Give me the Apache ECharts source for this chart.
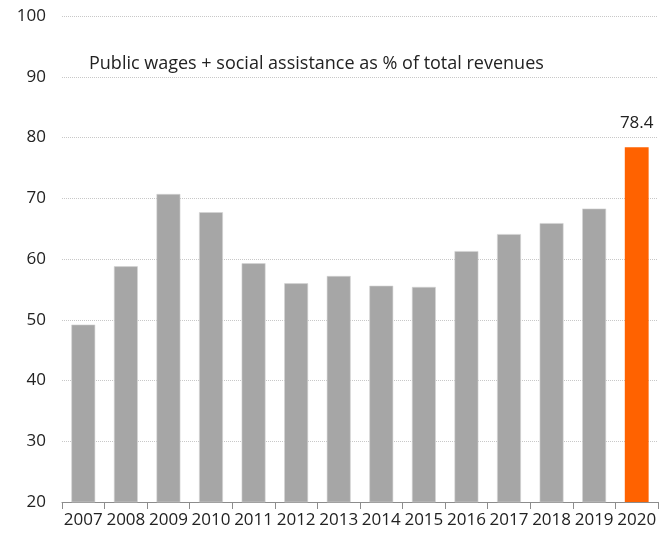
<!DOCTYPE html>
<html>
<head>
<meta charset="utf-8">
<style>
  html, body { margin: 0; padding: 0; background: #ffffff; }
  #chart { width: 661px; height: 535px; }
</style>
<script src="https://cdn.jsdelivr.net/npm/echarts@6/dist/echarts.min.js"></script>
</head>
<body>
<div id="chart"></div>
<script>
// Years on the category axis
const years = ['2007', '2008', '2009', '2010', '2011', '2012', '2013', '2014',
               '2015', '2016', '2017', '2018', '2019', '2020'];
// Public wages + social assistance, % of total revenues
const shareOfRevenues = [49.2, 58.8, 70.7, 67.7, 59.3, 56.0, 57.2, 55.6,
                         55.4, 61.3, 64.1, 65.9, 68.3, 78.4];
// Value axis ticks
const yTicks = [20, 30, 40, 50, 60, 70, 80, 90, 100];

const chartTitle = 'Public wages + social assistance as % of total revenues';
const highlightYear = '2020';

const grey = '#a6a6a6';
const orange = '#ff6200';
const textColor = '#222222';
const fontFamily = '"Open Sans", "Noto Sans", sans-serif';

const chart = echarts.init(document.getElementById('chart'), null, { renderer: 'canvas' });

const barData = years.map((y, i) => {
  const isHighlight = y === highlightYear;
  return {
    value: shareOfRevenues[i],
    itemStyle: isHighlight
      ? { color: orange }
      : { color: grey, borderColor: '#d4d4d4', borderWidth: 0.6 },
    label: {
      show: isHighlight,
      position: 'top',
      distance: 16,
      formatter: p => p.value.toFixed(1),
      color: textColor,
      fontSize: 17,
      fontFamily: fontFamily
    }
  };
});

chart.setOption({
  animation: false,
  backgroundColor: '#ffffff',
  title: {
    text: chartTitle,
    left: 84,
    top: 50,
    textStyle: { color: textColor, fontSize: 18, fontWeight: 'normal', fontFamily: fontFamily }
  },
  grid: { left: 62, right: 3, top: 16, bottom: 33, containLabel: false },
  xAxis: {
    type: 'category',
    data: years,
    axisLine: { show: true, lineStyle: { color: '#8c8c8c', width: 1 } },
    axisTick: { show: true, length: 7, lineStyle: { color: '#8c8c8c' } },
    axisLabel: { color: textColor, fontSize: 17, fontFamily: fontFamily, margin: 10, interval: 0 },
    splitLine: { show: false }
  },
  yAxis: {
    type: 'value',
    min: yTicks[0],
    max: yTicks[yTicks.length - 1],
    interval: yTicks[1] - yTicks[0],
    axisLine: { show: false },
    axisTick: { show: false },
    axisLabel: { color: textColor, fontSize: 17, fontFamily: fontFamily, margin: 16 },
    splitLine: { show: true, lineStyle: { color: '#c8c8c8', type: 'dotted', width: 1 } }
  },
  series: [{
    type: 'bar',
    data: barData,
    barWidth: '56%'
  }]
});
</script>
</body>
</html>
